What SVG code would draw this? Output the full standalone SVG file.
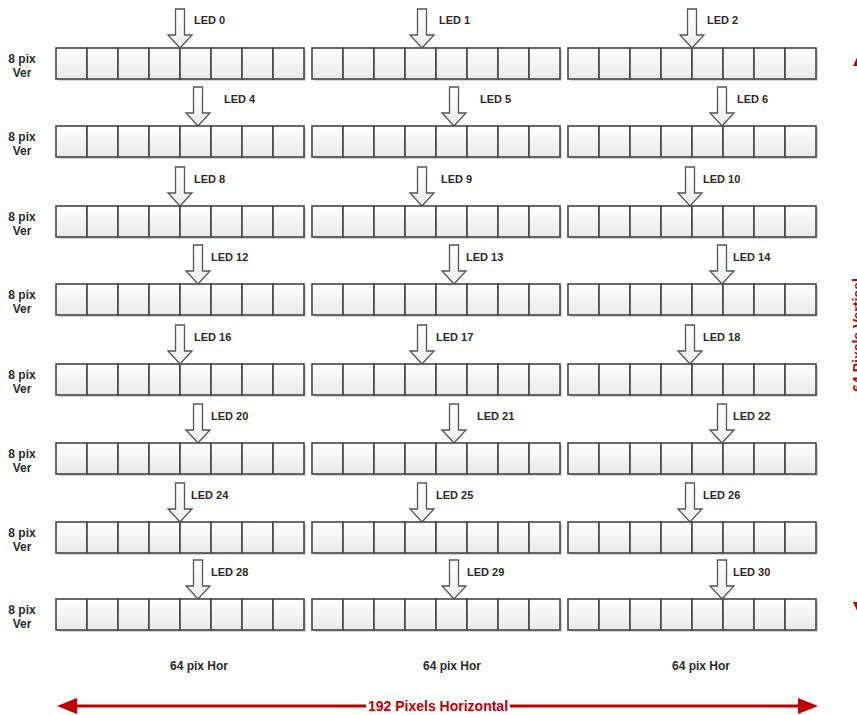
<svg xmlns="http://www.w3.org/2000/svg" xmlns:xlink="http://www.w3.org/1999/xlink" width="857" height="715" viewBox="0 0 857 715">
<style>
  .lbl { font-family: "Liberation Sans", Arial, sans-serif; font-weight: bold; font-size: 12px; fill: #2a2a2a; }
  .led { font-family: "Liberation Sans", Arial, sans-serif; font-weight: bold; font-size: 11px; fill: #2a2a2a; }
  .red { font-family: "Liberation Sans", Arial, sans-serif; font-weight: bold; font-size: 14px; fill: #C00000; }
  .cell { fill: url(#cellGrad); stroke: #454545; stroke-width: 1.6; }
  .shadow { fill: #d4d4d4; }
  .arw { fill: url(#arwGrad); stroke: #555555; stroke-width: 1.3; stroke-linejoin: miter; }
  .dim { stroke: #C00000; stroke-width: 3; fill: none; }
  .head { fill: #C00000; }
</style>
<defs>
  <linearGradient id="cellGrad" x1="0" y1="0" x2="0" y2="1">
    <stop offset="0" stop-color="#ffffff"/>
    <stop offset="1" stop-color="#e9e9e9"/>
  </linearGradient>
  <linearGradient id="arwGrad" x1="0" y1="0" x2="0" y2="1">
    <stop offset="0" stop-color="#ffffff"/>
    <stop offset="1" stop-color="#eeeeee"/>
  </linearGradient>
  <g id="blk">
    <rect class="shadow" x="2" y="2" width="248" height="31"/>
    <rect class="cell" x="0" y="0" width="31" height="31"/>
    <rect class="cell" x="31" y="0" width="31" height="31"/>
    <rect class="cell" x="62" y="0" width="31" height="31"/>
    <rect class="cell" x="93" y="0" width="31" height="31"/>
    <rect class="cell" x="124" y="0" width="31" height="31"/>
    <rect class="cell" x="155" y="0" width="31" height="31"/>
    <rect class="cell" x="186" y="0" width="31" height="31"/>
    <rect class="cell" x="217" y="0" width="31" height="31"/>
  </g>
  <path id="arw" class="arw" d="M-4.5,-39 H4.5 V-13 H12 L0,0 L-12,-13 H-4.5 Z"/>
</defs>
<rect x="0" y="0" width="857" height="715" fill="#ffffff"/>

<!-- Row labels -->
<g id="row-labels">
  <text class="lbl" x="22" y="63" text-anchor="middle">8 pix</text><text class="lbl" x="22" y="77" text-anchor="middle">Ver</text>
  <text class="lbl" x="22" y="141" text-anchor="middle">8 pix</text><text class="lbl" x="22" y="155" text-anchor="middle">Ver</text>
  <text class="lbl" x="22" y="221" text-anchor="middle">8 pix</text><text class="lbl" x="22" y="235" text-anchor="middle">Ver</text>
  <text class="lbl" x="22" y="299" text-anchor="middle">8 pix</text><text class="lbl" x="22" y="313" text-anchor="middle">Ver</text>
  <text class="lbl" x="22" y="379" text-anchor="middle">8 pix</text><text class="lbl" x="22" y="393" text-anchor="middle">Ver</text>
  <text class="lbl" x="22" y="458" text-anchor="middle">8 pix</text><text class="lbl" x="22" y="472" text-anchor="middle">Ver</text>
  <text class="lbl" x="22" y="537" text-anchor="middle">8 pix</text><text class="lbl" x="22" y="551" text-anchor="middle">Ver</text>
  <text class="lbl" x="22" y="614" text-anchor="middle">8 pix</text><text class="lbl" x="22" y="628" text-anchor="middle">Ver</text>
</g>

<!-- Panels -->
<g id="panel-0-0"><use xlink:href="#blk" x="56" y="48"/></g>
<g id="panel-0-1"><use xlink:href="#blk" x="312" y="48"/></g>
<g id="panel-0-2"><use xlink:href="#blk" x="568" y="48"/></g>
<g id="panel-1-0"><use xlink:href="#blk" x="56" y="126"/></g>
<g id="panel-1-1"><use xlink:href="#blk" x="312" y="126"/></g>
<g id="panel-1-2"><use xlink:href="#blk" x="568" y="126"/></g>
<g id="panel-2-0"><use xlink:href="#blk" x="56" y="206"/></g>
<g id="panel-2-1"><use xlink:href="#blk" x="312" y="206"/></g>
<g id="panel-2-2"><use xlink:href="#blk" x="568" y="206"/></g>
<g id="panel-3-0"><use xlink:href="#blk" x="56" y="284"/></g>
<g id="panel-3-1"><use xlink:href="#blk" x="312" y="284"/></g>
<g id="panel-3-2"><use xlink:href="#blk" x="568" y="284"/></g>
<g id="panel-4-0"><use xlink:href="#blk" x="56" y="364"/></g>
<g id="panel-4-1"><use xlink:href="#blk" x="312" y="364"/></g>
<g id="panel-4-2"><use xlink:href="#blk" x="568" y="364"/></g>
<g id="panel-5-0"><use xlink:href="#blk" x="56" y="443"/></g>
<g id="panel-5-1"><use xlink:href="#blk" x="312" y="443"/></g>
<g id="panel-5-2"><use xlink:href="#blk" x="568" y="443"/></g>
<g id="panel-6-0"><use xlink:href="#blk" x="56" y="522"/></g>
<g id="panel-6-1"><use xlink:href="#blk" x="312" y="522"/></g>
<g id="panel-6-2"><use xlink:href="#blk" x="568" y="522"/></g>
<g id="panel-7-0"><use xlink:href="#blk" x="56" y="599"/></g>
<g id="panel-7-1"><use xlink:href="#blk" x="312" y="599"/></g>
<g id="panel-7-2"><use xlink:href="#blk" x="568" y="599"/></g>

<!-- LED input arrows -->
<g id="connectors">
  <g id="led0"><use xlink:href="#arw" x="180" y="48"/><text class="led" x="194" y="24">LED 0</text></g>
  <g id="led1"><use xlink:href="#arw" x="422" y="48"/><text class="led" x="439" y="24">LED 1</text></g>
  <g id="led2"><use xlink:href="#arw" x="692" y="48"/><text class="led" x="707" y="24">LED 2</text></g>

  <g id="led4"><use xlink:href="#arw" x="198" y="126"/><text class="led" x="224" y="103">LED 4</text></g>
  <g id="led5"><use xlink:href="#arw" x="454" y="126"/><text class="led" x="480" y="103">LED 5</text></g>
  <g id="led6"><use xlink:href="#arw" x="722" y="126"/><text class="led" x="737" y="103">LED 6</text></g>

  <g id="led8"><use xlink:href="#arw" x="180" y="206"/><text class="led" x="194" y="183">LED 8</text></g>
  <g id="led9"><use xlink:href="#arw" x="422" y="206"/><text class="led" x="441" y="183">LED 9</text></g>
  <g id="led10"><use xlink:href="#arw" x="690" y="206"/><text class="led" x="703" y="183">LED 10</text></g>

  <g id="led12"><use xlink:href="#arw" x="198" y="284"/><text class="led" x="211" y="261">LED 12</text></g>
  <g id="led13"><use xlink:href="#arw" x="454" y="284"/><text class="led" x="466" y="261">LED 13</text></g>
  <g id="led14"><use xlink:href="#arw" x="722" y="284"/><text class="led" x="733" y="261">LED 14</text></g>

  <g id="led16"><use xlink:href="#arw" x="180" y="364"/><text class="led" x="194" y="341">LED 16</text></g>
  <g id="led17"><use xlink:href="#arw" x="422" y="364"/><text class="led" x="436" y="341">LED 17</text></g>
  <g id="led18"><use xlink:href="#arw" x="690" y="364"/><text class="led" x="703" y="341">LED 18</text></g>

  <g id="led20"><use xlink:href="#arw" x="198" y="443"/><text class="led" x="211" y="420">LED 20</text></g>
  <g id="led21"><use xlink:href="#arw" x="454" y="443"/><text class="led" x="477" y="420">LED 21</text></g>
  <g id="led22"><use xlink:href="#arw" x="722" y="443"/><text class="led" x="733" y="420">LED 22</text></g>

  <g id="led24"><use xlink:href="#arw" x="180" y="522"/><text class="led" x="191" y="499">LED 24</text></g>
  <g id="led25"><use xlink:href="#arw" x="422" y="522"/><text class="led" x="436" y="499">LED 25</text></g>
  <g id="led26"><use xlink:href="#arw" x="690" y="522"/><text class="led" x="703" y="499">LED 26</text></g>

  <g id="led28"><use xlink:href="#arw" x="198" y="599"/><text class="led" x="211" y="576">LED 28</text></g>
  <g id="led29"><use xlink:href="#arw" x="454" y="599"/><text class="led" x="467" y="576">LED 29</text></g>
  <g id="led30"><use xlink:href="#arw" x="722" y="599"/><text class="led" x="733" y="576">LED 30</text></g>

  <!-- Dimension arrows -->
  <g id="dim-horizontal">
    <line class="dim" x1="72" y1="706" x2="366" y2="706"/>
    <line class="dim" x1="510" y1="706" x2="803" y2="706"/>
    <polygon class="head" points="57,706 77,698 77,714"/>
    <polygon class="head" points="818,706 798,698 798,714"/>
    <text class="red" x="438" y="711" text-anchor="middle">192 Pixels Horizontal</text>
  </g>
  <g id="dim-vertical">
    <line class="dim" x1="862" y1="62" x2="862" y2="275"/>
    <line class="dim" x1="862" y1="395" x2="862" y2="606"/>
    <polygon class="head" points="862,47 853,66 871,66"/>
    <polygon class="head" points="862,621 853,602 871,602"/>
    <text class="red" transform="translate(863,335) rotate(-90)" text-anchor="middle">64 Pixels Vertical</text>
  </g>
</g>

<!-- Column labels -->
<g id="col-labels">
  <text class="lbl" x="199" y="670" text-anchor="middle">64 pix Hor</text>
  <text class="lbl" x="452" y="670" text-anchor="middle">64 pix Hor</text>
  <text class="lbl" x="701" y="670" text-anchor="middle">64 pix Hor</text>
</g>
</svg>
